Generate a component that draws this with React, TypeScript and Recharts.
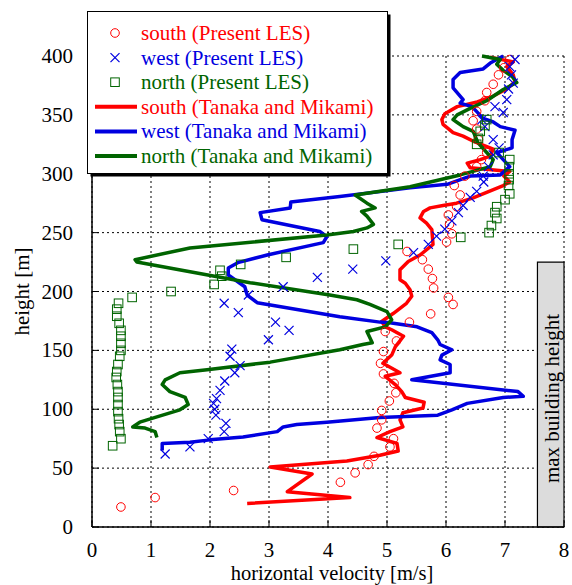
import React from 'react';
import { ComposedChart, Line, Scatter, XAxis, YAxis, CartesianGrid, ReferenceArea } from 'recharts';

const FONT = "'Liberation Serif', 'Times New Roman', Times, 'DejaVu Serif', serif";
const RED = '#ff0000';
const BLUE = '#0000e0';
const GREEN = '#006400';
const TXT = { fontFamily: FONT, fontSize: 21 };

const xTicks = [0, 1, 2, 3, 4, 5, 6, 7, 8];
const yTicks = [0, 50, 100, 150, 200, 250, 300, 350, 400];
const buildingZone = { x1: 7.55, x2: 8, y1: 0, y2: 225, label: 'max building height' };

// south (Present LES) [velocity, height]
const southLES = [
  [0.49, 17], [1.07, 25], [2.4, 31], [4.21, 38], [4.46, 46], [4.68, 53], [4.78, 60], [5.05, 68], [5.11, 75],
  [4.83, 84], [4.91, 91], [4.91, 99], [5.04, 107], [5.15, 114], [5.12, 122], [4.94, 130], [4.89, 139],
  [4.94, 149], [5.16, 158], [4.97, 166], [5.38, 174], [5.74, 181], [6.12, 189], [6.04, 195], [5.79, 203],
  [5.77, 211], [5.7, 219], [5.6, 227], [5.34, 234], [6.01, 242], [6.1, 249], [6.06, 257], [6.04, 265],
  [6.18, 272], [6.24, 282], [6.14, 290], [6.32, 298], [6.52, 306], [6.6, 312], [6.69, 318], [6.55, 329],
  [6.52, 338], [6.46, 345], [6.52, 353], [6.66, 362], [6.69, 369], [6.8, 376], [6.89, 384], [6.98, 390], [7.08, 397],
];
// west (Present LES)
const westLES = [
  [1.24, 62], [1.66, 68], [1.97, 75], [2.24, 81], [2.27, 88], [2.1, 95], [2.08, 100], [2.06, 105], [2.11, 109],
  [2.17, 116], [2.25, 124], [2.42, 131], [2.51, 137], [2.34, 145], [2.37, 151], [2.99, 159], [3.34, 167],
  [3.11, 174], [2.48, 182], [2.24, 190], [2.65, 197], [3.24, 204], [3.82, 212], [4.42, 219], [4.98, 226],
  [5.45, 233], [5.7, 240], [5.84, 247], [5.98, 253], [6.1, 260], [6.21, 267], [6.29, 273], [6.41, 280],
  [6.52, 285], [6.64, 293], [6.63, 298], [6.72, 306], [6.8, 316], [6.9, 322], [6.8, 329], [6.66, 340],
  [6.61, 346], [6.97, 352], [6.83, 357], [7.03, 363], [7.06, 372], [7.14, 377], [7.11, 384], [7.08, 391], [7.17, 397],
];
// north (Present LES)
const northLES = [
  [0.35, 69], [0.49, 75], [0.47, 81], [0.46, 87], [0.45, 92], [0.44, 98], [0.44, 104], [0.44, 110], [0.44, 115],
  [0.43, 121], [0.41, 127], [0.42, 132], [0.44, 138], [0.47, 145], [0.49, 150], [0.49, 156], [0.49, 162],
  [0.49, 167], [0.46, 173], [0.42, 179], [0.42, 185], [0.45, 190], [0.68, 195], [1.34, 200], [2.07, 206],
  [2.2, 213], [2.17, 218], [2.52, 223], [3.29, 229], [4.43, 236], [5.19, 240], [6.25, 246], [6.73, 250],
  [6.77, 256], [6.86, 262], [6.83, 267], [6.86, 272], [7.0, 278], [7.08, 283], [7.06, 290], [7.07, 295],
  [7.07, 300], [7.07, 306], [7.08, 312], [6.9, 318], [6.52, 325], [6.55, 330], [6.58, 336], [6.66, 341], [6.69, 346],
];
// south (Tanaka and Mikami)
const southTM = [
  [2.63, 20], [4.37, 25], [3.31, 30], [3.73, 45], [3.02, 51], [4.32, 56], [4.88, 61], [5.19, 64.5], [5.17, 71],
  [4.83, 76], [5.05, 81], [5.27, 85], [5.22, 91], [5.27, 97], [5.61, 101], [5.63, 106], [5.31, 110], [5.25, 115],
  [5.14, 121], [4.97, 128], [5.22, 131], [4.93, 139], [5.08, 146], [5.14, 153], [5.28, 162], [5.08, 167.5],
  [4.97, 170], [4.91, 174.5], [5.11, 181.5], [5.33, 190], [5.42, 196], [5.39, 201.5], [5.31, 207], [5.22, 210],
  [5.22, 218.5], [5.36, 225.5], [5.56, 231], [5.78, 240], [5.76, 252.5], [5.67, 258], [5.56, 262.5], [5.62, 268],
  [5.73, 271], [5.95, 273], [6.18, 275], [6.46, 279.5], [6.97, 290], [7.08, 293], [6.98, 298], [7.08, 302],
  [6.41, 305], [6.36, 309], [6.58, 312], [6.75, 315], [6.8, 321], [6.49, 327], [6.29, 332], [6.12, 335],
  [5.95, 342], [5.93, 346], [5.98, 351], [6.19, 357], [6.53, 361], [6.8, 366], [7.03, 372], [7.17, 378],
  [7.14, 384], [7.03, 391], [7.14, 395], [6.75, 399],
];
// west (Tanaka and Mikami)
const westTM = [
  [1.19, 65], [1.19, 71], [1.66, 72], [2.0, 74], [2.56, 76.5], [3.14, 81], [3.24, 85], [3.47, 87], [3.98, 89],
  [4.88, 93], [5.86, 95], [6.1, 99.5], [6.36, 105], [6.97, 110], [7.31, 111], [7.22, 115], [5.42, 125],
  [6.07, 131], [6.07, 138], [5.9, 142], [5.93, 146], [6.1, 150.5], [5.9, 155], [5.86, 159], [5.76, 165],
  [5.51, 170], [5.05, 173.5], [4.88, 174], [4.2, 178.6], [2.8, 190.5], [2.63, 197], [2.59, 204], [2.31, 214],
  [2.31, 220], [2.47, 224.5], [2.97, 231], [3.92, 241.5], [3.98, 246.5], [3.86, 251], [2.88, 261], [2.85, 267],
  [3.36, 271], [3.37, 276], [4.2, 280.6], [5.39, 288], [6.02, 291], [6.41, 298], [6.92, 299], [7.08, 306],
  [6.97, 312], [6.86, 318], [7.12, 322], [7.12, 329], [7.17, 337], [6.92, 340], [6.8, 344], [6.63, 347],
  [6.44, 357], [6.24, 360], [6.29, 363], [6.12, 373], [6.12, 380], [6.24, 386], [6.63, 389], [6.75, 394], [6.97, 400],
];
// north (Tanaka and Mikami)
const northTM = [
  [1.1, 76], [1.07, 81], [0.9, 84], [0.69, 85], [0.81, 89], [1.1, 93.5], [1.49, 99.5], [1.63, 104], [1.58, 110],
  [1.32, 115], [1.19, 121], [1.24, 125], [1.49, 131], [1.95, 133.5], [3.02, 140], [4.2, 150.5], [4.59, 155],
  [4.75, 156.5], [4.66, 166], [4.97, 170], [5.08, 176], [5.0, 183], [4.71, 189], [4.49, 193], [4.03, 197],
  [2.68, 207.5], [0.76, 225], [0.73, 227], [1.66, 237], [3.98, 248], [4.43, 251], [4.66, 254], [4.77, 257],
  [4.66, 264], [4.57, 268], [4.8, 271], [4.66, 275], [4.46, 282], [5.39, 289], [6.24, 299], [6.75, 306],
  [6.8, 312], [6.69, 318], [6.54, 326.5], [6.46, 336], [6.29, 340], [6.19, 343.5], [6.12, 346], [6.19, 350],
  [6.41, 355.5], [6.69, 362], [6.97, 371.5], [7.2, 377.5], [7.12, 382.6], [6.97, 387.8], [6.86, 393], [6.92, 397],
  [6.61, 400],
];

const toPts = (a: number[][]) => a.map(([x, y]) => ({ x, y }));

const CircleMark = (p: any) => (
  <circle cx={p.cx} cy={p.cy} r={4.3} fill="none" stroke={RED} strokeWidth={1} />
);
const CrossMark = (p: any) => {
  const s = 4.5;
  return (
    <g stroke={BLUE} strokeWidth={1.2}>
      <line x1={p.cx - s} y1={p.cy - s} x2={p.cx + s} y2={p.cy + s} />
      <line x1={p.cx - s} y1={p.cy + s} x2={p.cx + s} y2={p.cy - s} />
    </g>
  );
};
const SquareMark = (p: any) => (
  <rect x={p.cx - 4.3} y={p.cy - 4.3} width={8.6} height={8.6} fill="none" stroke={GREEN} strokeWidth={1} />
);

const BottomTick = (p: any) => (
  <g>
    <line x1={p.x} y1={p.y} x2={p.x} y2={p.y - 7} stroke="#000" strokeWidth={1} />
    <text x={p.x} y={p.y + 30} textAnchor="middle" style={TXT} fill="#000">
      {p.payload.value}
    </text>
  </g>
);
const TopTick = (p: any) => (
  <line x1={p.x} y1={p.y} x2={p.x} y2={p.y + 7} stroke="#000" strokeWidth={1} />
);
const LeftTick = (p: any) => (
  <g>
    <line x1={p.x} y1={p.y} x2={p.x + 7} y2={p.y} stroke="#000" strokeWidth={1} />
    <text x={p.x - 19} y={p.y + 7} textAnchor="end" style={TXT} fill="#000">
      {p.payload.value}
    </text>
  </g>
);
const RightTick = (p: any) => (
  <line x1={p.x} y1={p.y} x2={p.x - 7} y2={p.y} stroke="#000" strokeWidth={1} />
);

const XTitle = (p: any) => {
  const vb = p.viewBox;
  return (
    <text x={vb.x + vb.width / 2 + 4} y={vb.y + 53} textAnchor="middle" style={{ fontFamily: FONT, fontSize: 20.5 }} fill="#000">
      horizontal velocity [m/s]
    </text>
  );
};
const YTitle = (p: any) => {
  const vb = p.viewBox;
  const cx = vb.x + 22;
  const cy = vb.y + vb.height / 2;
  return (
    <text x={cx} y={cy} transform={`rotate(-90 ${cx} ${cy})`} textAnchor="middle" dominantBaseline="central"
      style={TXT} fill="#000">
      height [m]
    </text>
  );
};
const ZoneLabel = (p: any) => {
  const vb = p.viewBox;
  const cx = vb.x + vb.width / 2 + 1;
  const cy = vb.y + vb.height / 2 + 4;
  return (
    <text x={cx} y={cy} transform={`rotate(-90 ${cx} ${cy})`} textAnchor="middle" dominantBaseline="central"
      style={TXT} fill="#000">
      {buildingZone.label}
    </text>
  );
};

const legendItems = [
  { label: 'south (Present LES)', color: RED, kind: 'circle' },
  { label: 'west (Present LES)', color: BLUE, kind: 'cross' },
  { label: 'north (Present LES)', color: GREEN, kind: 'square' },
  { label: 'south (Tanaka and Mikami)', color: RED, kind: 'line' },
  { label: 'west (Tanaka and Mikami)', color: BLUE, kind: 'line' },
  { label: 'north (Tanaka and Mikami)', color: GREEN, kind: 'line' },
];

const LegendBox = () => (
  <svg width={572} height={585} style={{ position: 'absolute', left: 0, top: 0, pointerEvents: 'none' }}>
    <rect x={90.5} y={14.5} width={300} height={162} fill="#000" />
    <rect x={87.5} y={11.5} width={300} height={162} fill="#fff" stroke="#000" strokeWidth={1} />
    {legendItems.map((it, i) => {
      const cy = 33 + i * 24.6;
      const cx = 115;
      let mark: any = null;
      if (it.kind === 'circle') mark = <CircleMark cx={cx} cy={cy} />;
      else if (it.kind === 'cross') mark = <CrossMark cx={cx} cy={cy} />;
      else if (it.kind === 'square') mark = <SquareMark cx={cx} cy={cy} />;
      else mark = <line x1={95} x2={137} y1={cy} y2={cy} stroke={it.color} strokeWidth={4} />;
      return (
        <g key={it.label}>
          {mark}
          <text x={141} y={cy + 7} style={TXT} fill={it.color}>{it.label}</text>
        </g>
      );
    })}
  </svg>
);

export default function App() {
  return (
    <div style={{ position: 'absolute', left: 0, top: 0, width: 572, height: 585, background: '#fff', fontFamily: FONT }}>
      <ComposedChart width={572} height={585} margin={{ top: 56, right: 8, bottom: 0, left: 0 }}>
        <CartesianGrid stroke="#000" strokeDasharray="2 3" strokeWidth={1} />
        <XAxis xAxisId={0} dataKey="x" type="number" domain={[0, 8]} ticks={xTicks} interval={0}
          tickSize={0} tickMargin={0} tick={<BottomTick />} tickLine={false} height={58}
          axisLine={{ stroke: '#000', strokeWidth: 1.5 }} label={XTitle} />
        <XAxis xAxisId="top" orientation="top" type="number" domain={[0, 8]} ticks={xTicks} interval={0}
          tickSize={0} tickMargin={0} tick={<TopTick />} tickLine={false} height={0}
          axisLine={{ stroke: '#000', strokeWidth: 1.5 }} />
        <YAxis yAxisId={0} dataKey="y" type="number" domain={[0, 400]} ticks={yTicks} interval={0}
          tickSize={0} tickMargin={0} tick={<LeftTick />} tickLine={false} width={92}
          axisLine={{ stroke: '#000', strokeWidth: 1.5 }} label={YTitle} />
        <YAxis yAxisId="right" orientation="right" type="number" domain={[0, 400]} ticks={yTicks} interval={0}
          tickSize={0} tickMargin={0} tick={<RightTick />} tickLine={false} width={0}
          axisLine={{ stroke: '#000', strokeWidth: 1.5 }} />
        <ReferenceArea x1={buildingZone.x1} x2={buildingZone.x2} y1={buildingZone.y1} y2={buildingZone.y2}
          fill="#dcdcdc" fillOpacity={1} stroke="#000" strokeWidth={1.2} label={ZoneLabel} />
        <Scatter name="south (Present LES)" data={toPts(southLES)} shape={CircleMark} isAnimationActive={false} />
        <Scatter name="west (Present LES)" data={toPts(westLES)} shape={CrossMark} isAnimationActive={false} />
        <Scatter name="north (Present LES)" data={toPts(northLES)} shape={SquareMark} isAnimationActive={false} />
        <Line name="south (Tanaka and Mikami)" data={toPts(southTM)} dataKey="y" type="linear" stroke={RED}
          strokeWidth={3.5} dot={false} isAnimationActive={false} strokeLinejoin="round" />
        <Line name="west (Tanaka and Mikami)" data={toPts(westTM)} dataKey="y" type="linear" stroke={BLUE}
          strokeWidth={3.5} dot={false} isAnimationActive={false} strokeLinejoin="round" />
        <Line name="north (Tanaka and Mikami)" data={toPts(northTM)} dataKey="y" type="linear" stroke={GREEN}
          strokeWidth={3.5} dot={false} isAnimationActive={false} strokeLinejoin="round" />
      </ComposedChart>
      <LegendBox />
    </div>
  );
}
